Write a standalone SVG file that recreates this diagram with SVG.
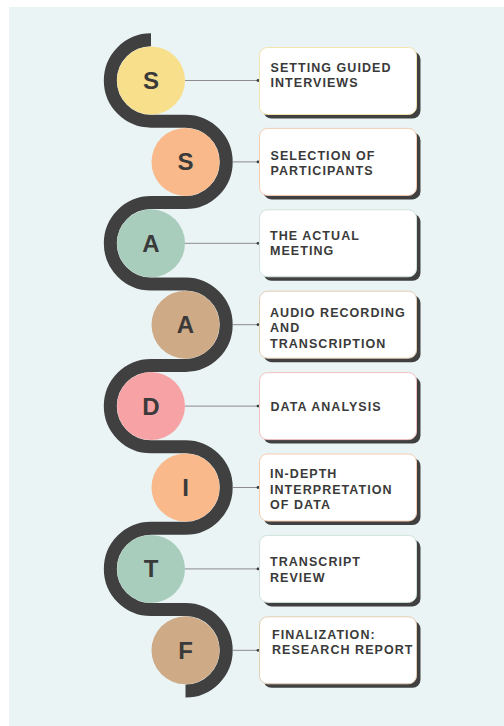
<svg xmlns="http://www.w3.org/2000/svg" width="504" height="726" viewBox="0 0 504 726">
  <style>
    .bg { fill: #eaf4f5; }
    .snake { fill: none; stroke: #404040; stroke-width: 13; stroke-linecap: butt; }
    .link { stroke: #8c8c8c; stroke-width: 1; fill: none; }
    .dot { fill: #3a3a3a; }
    .shadow { fill: #404040; }
    .card { fill: #ffffff; stroke-width: 1; }
    .letter { font-family: "Liberation Sans", Arial, sans-serif; font-weight: bold; font-size: 24px; fill: #3a3a3a; text-anchor: middle; }
    .label { font-family: "Liberation Sans", Arial, sans-serif; font-weight: bold; font-size: 12.5px; letter-spacing: 1.05px; fill: #3a3a3a; }
    .yellow { fill: #f8df8c; }
    .peach { fill: #f9b98a; }
    .mint { fill: #a9cdbd; }
    .tan { fill: #cfaa86; }
    .pink { fill: #f7a3a5; }
    .b-yellow { stroke: #f3e3ad; }
    .b-peach { stroke: #f6cdb0; }
    .b-mint { stroke: #cfe3da; }
    .b-tan { stroke: #e3cdb3; }
    .b-pink { stroke: #f4c1c2; }
  </style>

  <rect class="bg" x="9" y="7" width="495" height="719"/>

  <!-- winding band behind the step circles -->
  <path class="snake" d="M151,39.8 A40.7,40.7 0 0 0 151,121.2 L185.5,121.2 A40.7,40.7 0 0 1 185.5,202.6 L151,202.6 A40.7,40.7 0 0 0 151,284 L185.5,284 A40.7,40.7 0 0 1 185.5,365.4 L151,365.4 A40.7,40.7 0 0 0 151,446.8 L185.5,446.8 A40.7,40.7 0 0 1 185.5,528.2 L151,528.2 A40.7,40.7 0 0 0 151,609.6 L185.5,609.6 A40.7,40.7 0 0 1 185.5,691"/>

  <!-- connectors from circles to cards -->
  <g id="connectors">
    <line class="link" x1="185" y1="80.5" x2="258" y2="80.5"/><circle class="dot" cx="258" cy="80.5" r="1.4"/>
    <line class="link" x1="232.5" y1="161.9" x2="258" y2="161.9"/><circle class="dot" cx="258" cy="161.9" r="1.4"/>
    <line class="link" x1="185" y1="243.3" x2="258" y2="243.3"/><circle class="dot" cx="258" cy="243.3" r="1.4"/>
    <line class="link" x1="232.5" y1="324.7" x2="258" y2="324.7"/><circle class="dot" cx="258" cy="324.7" r="1.4"/>
    <line class="link" x1="185" y1="406.1" x2="258" y2="406.1"/><circle class="dot" cx="258" cy="406.1" r="1.4"/>
    <line class="link" x1="232.5" y1="487.5" x2="258" y2="487.5"/><circle class="dot" cx="258" cy="487.5" r="1.4"/>
    <line class="link" x1="185" y1="568.9" x2="258" y2="568.9"/><circle class="dot" cx="258" cy="568.9" r="1.4"/>
    <line class="link" x1="232.5" y1="650.3" x2="258" y2="650.3"/><circle class="dot" cx="258" cy="650.3" r="1.4"/>
  </g>

  <g id="step-1">
    <circle class="yellow" cx="151" cy="80.5" r="34"/>
    <text class="letter" x="151" y="89">S</text>
    <rect class="shadow" x="263.5" y="51.5" width="157" height="67" rx="8"/>
    <rect class="card b-yellow" x="259.5" y="47.5" width="157" height="67" rx="8"/>
    <text class="label" x="270.5" y="71.7">SETTING GUIDED</text>
    <text class="label" x="270.5" y="86.7">INTERVIEWS</text>
  </g>

  <g id="step-2">
    <circle class="peach" cx="185.5" cy="161.9" r="34"/>
    <text class="letter" x="185.5" y="170.4">S</text>
    <rect class="shadow" x="263.5" y="132.4" width="157" height="67" rx="8"/>
    <rect class="card b-peach" x="259.5" y="128.4" width="157" height="67" rx="8"/>
    <text class="label" x="270.5" y="160">SELECTION OF</text>
    <text class="label" x="270.5" y="175.3">PARTICIPANTS</text>
  </g>

  <g id="step-3">
    <circle class="mint" cx="151" cy="243.3" r="34"/>
    <text class="letter" x="151" y="251.8">A</text>
    <rect class="shadow" x="263.5" y="213.8" width="157" height="67" rx="8"/>
    <rect class="card b-mint" x="259.5" y="209.8" width="157" height="67" rx="8"/>
    <text class="label" x="270" y="239.5">THE ACTUAL</text>
    <text class="label" x="270" y="254.8">MEETING</text>
  </g>

  <g id="step-4">
    <circle class="tan" cx="185.5" cy="324.7" r="34"/>
    <text class="letter" x="185.5" y="333.2">A</text>
    <rect class="shadow" x="263.5" y="295.2" width="157" height="67" rx="8"/>
    <rect class="card b-tan" x="259.5" y="291.2" width="157" height="67" rx="8"/>
    <text class="label" x="270" y="316.7">AUDIO RECORDING</text>
    <text class="label" x="270" y="332.4">AND</text>
    <text class="label" x="270" y="347.7">TRANSCRIPTION</text>
  </g>

  <g id="step-5">
    <circle class="pink" cx="151" cy="406.1" r="34"/>
    <text class="letter" x="151" y="414.6">D</text>
    <rect class="shadow" x="263.5" y="376.6" width="157" height="67" rx="8"/>
    <rect class="card b-pink" x="259.5" y="372.6" width="157" height="67" rx="8"/>
    <text class="label" x="270.5" y="410.5">DATA ANALYSIS</text>
  </g>

  <g id="step-6">
    <circle class="peach" cx="185.5" cy="487.5" r="34"/>
    <text class="letter" x="185.5" y="496">I</text>
    <rect class="shadow" x="263.5" y="458" width="157" height="67" rx="8"/>
    <rect class="card b-peach" x="259.5" y="454" width="157" height="67" rx="8"/>
    <text class="label" x="270" y="477.7">IN-DEPTH</text>
    <text class="label" x="270" y="493.6">INTERPRETATION</text>
    <text class="label" x="270" y="509">OF DATA</text>
  </g>

  <g id="step-7">
    <circle class="mint" cx="151" cy="568.9" r="34"/>
    <text class="letter" x="151" y="577.4">T</text>
    <rect class="shadow" x="263.5" y="539.4" width="157" height="67" rx="8"/>
    <rect class="card b-mint" x="259.5" y="535.4" width="157" height="67" rx="8"/>
    <text class="label" x="270" y="566">TRANSCRIPT</text>
    <text class="label" x="270" y="581.7">REVIEW</text>
  </g>

  <g id="step-8">
    <circle class="tan" cx="185.5" cy="650.3" r="34"/>
    <text class="letter" x="185.5" y="658.8">F</text>
    <rect class="shadow" x="263.5" y="620.8" width="157" height="67" rx="8"/>
    <rect class="card b-tan" x="259.5" y="616.8" width="157" height="67" rx="8"/>
    <text class="label" x="272" y="638.7">FINALIZATION:</text>
    <text class="label" x="272" y="654.3">RESEARCH REPORT</text>
  </g>
</svg>
